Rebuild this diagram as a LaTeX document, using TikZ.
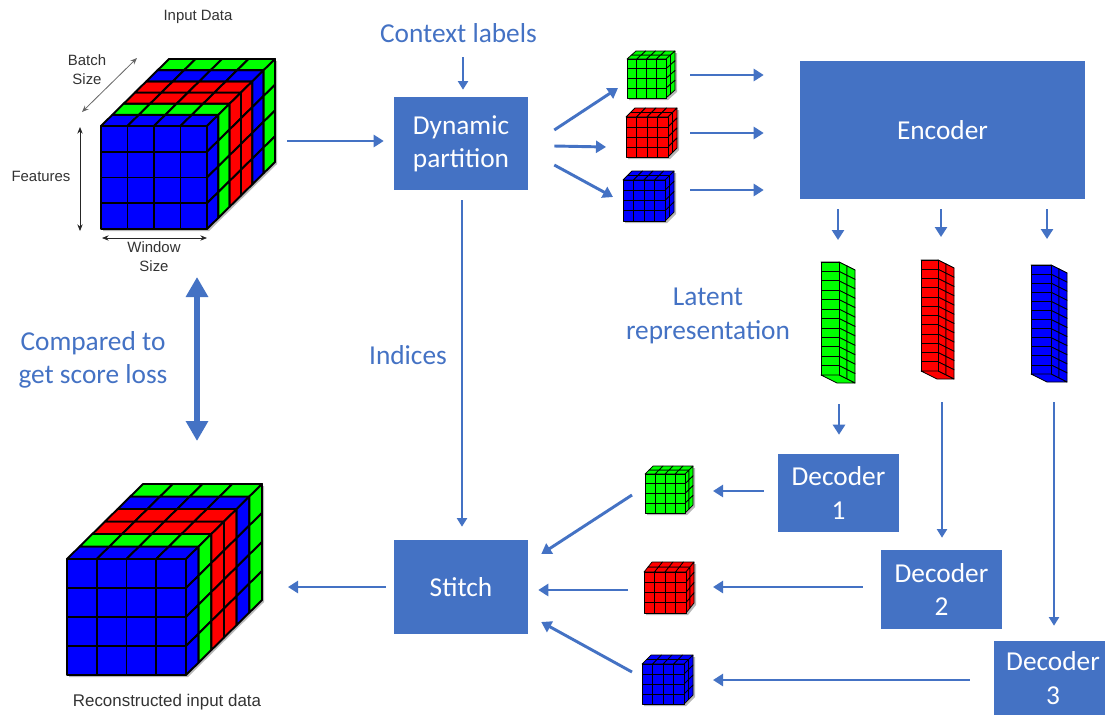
\documentclass[tikz,border=0pt]{standalone}
\usepackage{fontspec}
\setmainfont{Carlito}
\newfontfamily\smallfont{Liberation Sans}
\usetikzlibrary{arrows.meta,calc}
\definecolor{office}{HTML}{4472C4}
\definecolor{cb}{HTML}{0000FF}
\definecolor{cg}{HTML}{00FF00}
\definecolor{cr}{HTML}{FF0000}
\definecolor{smalltext}{HTML}{333333}
\tikzset{
  flow/.style={draw=office,line width=2.2pt,-{Triangle[length=7.5pt,width=9pt]},line cap=butt},
  thinflow/.style={draw=office,line width=1.6pt,-{Triangle[length=6.5pt,width=7.5pt]}},
  bigflow/.style={draw=office,line width=5pt,{Triangle[length=15pt,width=16pt]}-{Triangle[length=15pt,width=16pt]}},
  bluebox/.style={fill=office,text=white,inner sep=0pt,align=center,font=\fontsize{20.5}{25}\selectfont},
  bluetext/.style={text=office,inner sep=0pt,align=center,font=\fontsize{20.5}{25}\selectfont},
  smalllabel/.style={text=smalltext,inner sep=0pt,align=center,font=\smallfont\fontsize{11.2}{14.2}\selectfont},
  dimline/.style={draw=black!85,line width=.6pt,{Stealth[length=5pt,width=4pt]}-{Stealth[length=5pt,width=4pt]}},
  ghost/.style={inner sep=0pt,outer sep=0pt,draw=none,fill=none},
}
\def\firstcol#1,#2\relax{#1}
\newcount\cubecount
\def\cnx{4}\def\cny{4}\def\clw{.55pt}
% name, x, y, w, h, dx, dy, colours front-to-back
\newcommand{\gridcube}[8]{%
  \global\cubecount=0
  \foreach \cc in {#8}{\global\advance\cubecount by 1}%
  \pgfmathsetmacro\ux{(#4)/\cnx}\pgfmathsetmacro\uy{(#5)/\cny}%
  \pgfmathsetmacro\ddx{(#6)/\the\cubecount}\pgfmathsetmacro\ddy{(#7)/\the\cubecount}%
  \ifdim #7pt<0pt
    \fill[black,opacity=.28] (#2+2,#3+2) -- ++(#6,#7) -- ++(#4,0) -- ++(0,#5) -- ++(-#6,-#7) -- ++(-#4,0) -- cycle;
  \fi
  \begin{scope}[line width=\clw,draw=black,line join=round]
  \foreach \cc [count=\k from 0] in {#8}{%
    \foreach \i in {1,...,\cnx}{%
      \filldraw[fill=\cc] ({#2+(\i-1)*\ux+\k*\ddx},{#3+\k*\ddy}) -- ++(\ux,0) -- ++(\ddx,\ddy) -- ++(-\ux,0) -- cycle;
    }}
  \foreach \cc [count=\k from 0] in {#8}{%
    \foreach \j in {1,...,\cny}{%
      \filldraw[fill=\cc] ({#2+#4+\k*\ddx},{#3+(\j-1)*\uy+\k*\ddy}) -- ++(\ddx,\ddy) -- ++(0,\uy) -- ++(-\ddx,-\ddy) -- cycle;
    }}
  \edef\frontcol{\firstcol#8,\relax}%
  \foreach \i in {1,...,\cnx}{\foreach \j in {1,...,\cny}{%
      \filldraw[fill=\frontcol] ({#2+(\i-1)*\ux},{#3+(\j-1)*\uy}) rectangle ++(\ux,\uy);
  }}
  \end{scope}
  \pgfmathsetmacro\gw{(#4+abs(#6))*0.75}%
  \pgfmathsetmacro\gh{(#5+abs(#7))*0.75}%
  \pgfmathsetmacro\gcy{#3+(#5+#7)/2}%
  \node[ghost,minimum width=\gw pt,minimum height=\gh pt] (#1) at ({#2+(#4+#6)/2},\gcy) {};
}
% name, x, y, w, h, colour: the tall latent column with its bottom face
\newcommand{\latent}[6]{%
  \begingroup\def\cnx{1}\def\cny{12}\def\clw{.6pt}%
  \gridcube{#1}{#2}{#3}{#4}{#5}{16}{8}{#6,#6}%
  \filldraw[fill=#6,draw=black,line width=.6pt,line join=round] (#2,#3+#5) -- ++(#4,0) -- ++(16,8) -- ++(-#4,0) -- cycle;
  \endgroup
}
\begin{document}
\begin{tikzpicture}[x=0.75pt,y=-0.75pt]
\useasboundingbox (0,0) rectangle (1105,715);
\fill[white] (0,0) rectangle (1105,715);

% big cubes
\begingroup\def\clw{1.45pt}
\gridcube{inp}{101}{126}{106}{103}{68}{-67}{cb,cg,cr,cr,cb,cg}
\gridcube{rec}{67}{559}{119}{116}{76}{-75}{cb,cg,cr,cr,cb,cg}
\endgroup

% small cubes
\gridcube{gin}{627}{59}{39}{39}{9}{-8}{cg,cg}
\gridcube{rin}{626}{117}{42}{40}{9}{-9}{cr,cr}
\gridcube{bin}{623}{180}{42}{41}{9}{-9}{cb,cb}
\gridcube{gout}{645}{474}{40}{39}{8}{-8}{cg,cg}
\gridcube{rout}{644}{572}{42}{41}{8}{-10}{cr,cr}
\gridcube{bout}{642}{664}{42}{40}{9}{-9}{cb,cb}

% latent columns
\latent{lg}{821}{262}{18}{113}{cg}
\latent{lr}{921}{260}{17}{111}{cr}
\latent{lb}{1031}{265}{20}{109}{cb}

% boxes
\node[bluebox,minimum width=100.5pt,minimum height=69.75pt] (part) at (461,143.5) {Dynamic\\partition};
\node[bluebox,minimum width=213.75pt,minimum height=103.5pt] (enc) at (942.5,130) {Encoder};
\node[bluebox,minimum width=100.5pt,minimum height=70.5pt] (stitch) at (461,587) {Stitch};
\node[bluebox,minimum width=90.75pt,minimum height=58.5pt] (dec1) at (838.5,493) {Decoder\\1};
\node[bluebox,minimum width=90.75pt,minimum height=59.25pt] (dec2) at (941.5,589.5) {Decoder\\2};
\node[bluebox,minimum width=83.25pt,minimum height=55.5pt] (dec3) at (1049.5,678) {};
\node[bluetext,text=white] (dec3text) at (1053,678) {Decoder\\3};

% blue labels
\node[bluetext] (ctx) at (458.5,33) {Context labels};
\node[bluetext] (idx) at (408,355) {Indices};
\node[bluetext] (lat) at (708,316) {Latent\\representation};
\node[bluetext] (cmp) at (93,360) {Compared to\\get score loss};

% small labels
\node[smalllabel] (tinput) at (198,17) {Input Data};
\node[smalllabel] (tbatch) at (87,69.5) {Batch\\Size};
\node[smalllabel] (tfeat) at (41,176) {Features};
\node[smalllabel] (twin) at (154,256.5) {Window\\Size};
\node[smalllabel,font=\smallfont\fontsize{12.7}{15}\selectfont] (trec) at (167,702) {Reconstructed input data};

% dimension arrows
\coordinate (ba) at (137,58); \coordinate (bb) at (82,112);
\coordinate (fa) at (80,127); \coordinate (fb) at (80,231);
\coordinate (wa) at (102,238); \coordinate (wb) at (207,238);
\draw[dimline,draw=black!60] (ba) -- (bb);
\draw[dimline] (fa) -- (fb);
\draw[dimline] (wa) -- (wb);

% connectors
\coordinate (ctxend) at (463,57);
\draw[thinflow] (ctxend) -- ($(part.north)+(2,-7)$);
\draw[flow] ($(inp.east)+(12,-3)$) -- ($(part.west)+(-10,-2.5)$);
\draw[flow] ($(part.east)+(26,-13.5)$) -- ($(gin.west)+(-9,13.5)$);
\draw[flow] ($(part.east)+(26,2.5)$) -- ($(rin.west)+(-20,14.5)$);
\draw[flow] ($(part.east)+(26,21.5)$) -- ($(bin.west)+(-10,1)$);
\draw[flow] ($(gin.east)+(15,.5)$) -- ($(enc.west)+(-36,-55)$);
\draw[flow] ($(rin.east)+(13,.5)$) -- ($(enc.west)+(-36,3)$);
\draw[flow] ($(bin.east)+(16,-6)$) -- ($(enc.west)+(-36,60)$);
\draw[flow] ($(enc.south)+(-104.5,10)$) -- ($(lg.north)+(0,-22)$);
\draw[flow] ($(enc.south)+(-1.5,10)$) -- ($(lr.north)+(3.5,-23)$);
\draw[flow] ($(enc.south)+(104.5,10)$) -- ($(lb.north)+(-2,-26)$);
\draw[flow] ($(lg.south)+(1,21)$) -- ($(dec1.north)+(.5,-19)$);
\draw[thinflow] ($(lr.south)+(4.5,23)$) -- ($(dec2.north)+(.5,-12)$);
\draw[thinflow] ($(lb.south)+(5,20)$) -- ($(dec3.north)+(4.5,-15)$);
\draw[flow] ($(dec1.west)+(-14,-2)$) -- ($(gout.east)+(20,1.5)$);
\draw[flow] ($(dec2.west)+(-18,-2.5)$) -- ($(rout.east)+(19,-.5)$);
\draw[flow] ($(dec3.west)+(-24,2)$) -- ($(bout.east)+(20,.5)$);
\draw[flow] ($(gout.west)+(-13,5.5)$) -- ($(stitch.east)+(13,-33)$);
\draw[flow] ($(rout.west)+(-16,2.5)$) -- ($(stitch.east)+(10,3)$);
\draw[flow] ($(bout.west)+(-10,-7.5)$) -- ($(stitch.east)+(13,35)$);
\draw[flow] ($(stitch.west)+(-8,0)$) -- ($(rec.east)+(26,7.5)$);
\draw[thinflow] ($(part.south)+(1,10)$) -- ($(stitch.north)+(1,-13)$);
\draw[bigflow] ($(inp.south)+(9,48)$) -- ($(rec.north)+(32.5,-43)$);
\end{tikzpicture}
\end{document}
